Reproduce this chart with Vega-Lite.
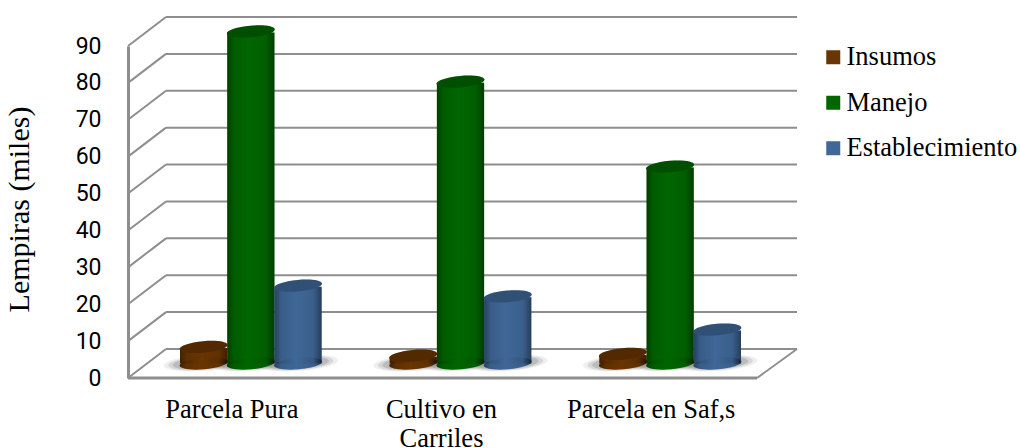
{
  "$schema": "https://vega.github.io/schema/vega-lite/v6.json",
  "description": "Costos por sistema de parcela, en miles de lempiras, dibujados como cilindros sobre un piso en perspectiva.",
  "width": 629,
  "height": 332,
  "autosize": "none",
  "padding": {"left": 128, "top": 46, "right": 263, "bottom": 70},
  "background": "white",
  "config": {
    "view": {"stroke": null},
    "axisY": {
      "labelOverlap": false,
      "labelFont": "Roboto",
      "labelFontSize": 23,
      "labelColor": "#000",
      "labelPadding": 27,
      "tickSize": 0,
      "grid": false,
      "tickCount": 10,
      "domainColor": "#8e8e8e",
      "domainWidth": 3,
      "titleFont": "Liberation Serif",
      "titleFontSize": 30,
      "titleFontWeight": "normal",
      "titleColor": "#000",
      "titlePadding": 41
    }
  },
  "datasets": {
    "costos": [
      {"sistema": "Parcela Pura", "rubro": "Insumos", "valor": 4.5},
      {"sistema": "Parcela Pura", "rubro": "Manejo", "valor": 90},
      {"sistema": "Parcela Pura", "rubro": "Establecimiento", "valor": 21.1},
      {"sistema": "Cultivo en Carriles", "rubro": "Insumos", "valor": 2.1},
      {"sistema": "Cultivo en Carriles", "rubro": "Manejo", "valor": 76.4},
      {"sistema": "Cultivo en Carriles", "rubro": "Establecimiento", "valor": 18.2},
      {"sistema": "Parcela en Saf,s", "rubro": "Insumos", "valor": 2.6},
      {"sistema": "Parcela en Saf,s", "rubro": "Manejo", "valor": 53.4},
      {"sistema": "Parcela en Saf,s", "rubro": "Establecimiento", "valor": 9.2}
    ],
    "marcas": [
      {"marca": 0}, {"marca": 10}, {"marca": 20}, {"marca": 30}, {"marca": 40},
      {"marca": 50}, {"marca": 60}, {"marca": 70}, {"marca": 80}, {"marca": 90}
    ]
  },
  "resolve": {"scale": {"x": "independent"}},
  "layer": [
    {
      "data": {"name": "marcas"},
      "mark": {"type": "rule", "color": "#8e8e8e", "strokeWidth": 2, "y2Offset": -29},
      "encoding": {
        "x": {"datum": 0, "type": "quantitative", "scale": {"domain": [0, 100]}, "axis": null},
        "x2": {"datum": 6.04},
        "y": {
          "field": "marca",
          "type": "quantitative",
          "scale": {"domain": [0, 90], "nice": false},
          "axis": {"title": "Lempiras (miles)", "titleY": 163, "values": [0, 10, 20, 30, 40, 50, 60, 70, 80, 90]}
        },
        "y2": {"field": "marca"}
      }
    },
    {
      "data": {"name": "marcas"},
      "mark": {"type": "rule", "color": "#8e8e8e", "strokeWidth": 2, "yOffset": -29, "y2Offset": -29},
      "encoding": {
        "x": {"datum": 6.04, "type": "quantitative", "scale": {"domain": [0, 100]}, "axis": null},
        "x2": {"datum": 106.36},
        "y": {"field": "marca", "type": "quantitative", "scale": {"domain": [0, 90], "nice": false}},
        "y2": {"field": "marca"}
      }
    },
    {
      "data": {"name": "marcas"},
      "transform": [{"filter": "datum.marca === 0"}],
      "mark": {"type": "rule", "color": "#8e8e8e", "strokeWidth": 3},
      "encoding": {
        "x": {"datum": 0, "type": "quantitative", "scale": {"domain": [0, 100]}, "axis": null},
        "x2": {"datum": 100},
        "y": {"field": "marca", "type": "quantitative", "scale": {"domain": [0, 90], "nice": false}}
      }
    },
    {
      "data": {"name": "marcas"},
      "transform": [{"filter": "datum.marca === 0"}],
      "mark": {"type": "rule", "color": "#8e8e8e", "strokeWidth": 2, "y2Offset": -29},
      "encoding": {
        "x": {"datum": 100, "type": "quantitative", "scale": {"domain": [0, 100]}, "axis": null},
        "x2": {"datum": 106.36},
        "y": {"field": "marca", "type": "quantitative", "scale": {"domain": [0, 90], "nice": false}},
        "y2": {"field": "marca"}
      }
    },
    {
      "data": {"name": "costos"},
      "encoding": {
        "x": {
          "field": "sistema",
          "type": "nominal",
          "sort": null,
          "scale": {"range": [18, 647], "paddingInner": 0, "paddingOuter": 0},
          "axis": {
            "title": null,
            "labelAngle": 0,
            "labelFont": "Liberation Serif",
            "labelFontSize": 26.5,
            "labelColor": "#000",
            "labelPadding": 18,
            "labelOffset": -19,
            "labelLineHeight": 29.5,
            "labelLimit": 0,
            "labelExpr": "datum.label === 'Cultivo en Carriles' ? ['Cultivo en', 'Carriles'] : datum.label",
            "domain": false,
            "ticks": false,
            "grid": false
          }
        },
        "xOffset": {
          "field": "rubro",
          "type": "nominal",
          "sort": null,
          "scale": {"domain": ["Insumos", "Manejo", "Establecimiento"], "paddingInner": 0, "paddingOuter": 0.72}
        },
        "color": {
          "field": "rubro",
          "type": "nominal",
          "sort": null,
          "scale": {"domain": ["Insumos", "Manejo", "Establecimiento"], "range": ["#693500", "#006600", "#3f6797"]},
          "legend": {
            "title": null,
            "orient": "none",
            "legendX": 692,
            "legendY": -2,
            "symbolType": "square",
            "symbolSize": 196,
            "symbolStrokeWidth": 0,
            "labelFont": "Liberation Serif",
            "labelFontSize": 26.5,
            "labelColor": "#000",
            "labelOffset": 0,
            "labelLimit": 0,
            "rowPadding": 18.5,
            "symbolOpacity": 1
          }
        }
      },
      "layer": [
        {
          "mark": {"type": "point", "filled": true, "opacity": 0.12, "size": 6400, "yOffset": -15,
            "shape": "M-1,0.07 A1,0.2 -4 1 1 1,-0.07 A1,0.2 -4 1 1 -1,0.07 Z"},
          "encoding": {"color": {"value": "#7a7a7a"}, "y": {"datum": 0, "type": "quantitative", "scale": {"domain": [0, 90], "nice": false}}}
        },
        {
          "mark": {"type": "point", "filled": true, "opacity": 0.2, "size": 5000, "yOffset": -15,
            "shape": "M-1,0.07 A1,0.2 -4 1 1 1,-0.07 A1,0.2 -4 1 1 -1,0.07 Z"},
          "encoding": {"color": {"value": "#7a7a7a"}, "y": {"datum": 0, "type": "quantitative", "scale": {"domain": [0, 90], "nice": false}}}
        },
        {
          "mark": {"type": "point", "filled": true, "opacity": 0.3, "size": 3800, "yOffset": -15,
            "shape": "M-1,0.07 A1,0.2 -4 1 1 1,-0.07 A1,0.2 -4 1 1 -1,0.07 Z"},
          "encoding": {"color": {"value": "#7a7a7a"}, "y": {"datum": 0, "type": "quantitative", "scale": {"domain": [0, 90], "nice": false}}}
        },
        {
          "mark": {"type": "point", "filled": true, "opacity": 1, "size": 2304, "yOffset": -14.5,
            "shape": "M-1,0.087 A1,0.24 -5 1 1 1,-0.087 A1,0.24 -5 1 1 -1,0.087 Z"},
          "encoding": {
            "y": {"datum": 0, "type": "quantitative", "scale": {"domain": [0, 90], "nice": false}}
          }
        },
        {
          "mark": {"type": "bar", "width": {"band": 1}, "yOffset": -13.5, "y2Offset": -14.5},
          "encoding": {
            "y": {"field": "valor", "type": "quantitative", "stack": null, "scale": {"domain": [0, 90], "nice": false}},
            "y2": {"datum": 0}
          }
        },
        {
          "mark": {"type": "point", "filled": true, "opacity": 1, "size": 2304, "yOffset": -14.5,
            "shape": "M-1,0.087 A1,0.24 -5 1 1 1,-0.087 A1,0.24 -5 1 1 -1,0.087 Z",
            "fill": {"gradient": "linear", "x1": 0, "y1": 0, "x2": 1, "y2": 0, "stops": [
              {"offset": 0, "color": "rgba(0,0,0,0.38)"},
              {"offset": 0.14, "color": "rgba(0,0,0,0.1)"},
              {"offset": 0.45, "color": "rgba(0,0,0,0)"},
              {"offset": 0.82, "color": "rgba(0,0,0,0.08)"},
              {"offset": 1, "color": "rgba(0,0,0,0.4)"}
            ]}},
          "encoding": {"color": {"value": null}, "y": {"datum": 0, "type": "quantitative", "scale": {"domain": [0, 90], "nice": false}}}
        },
        {
          "mark": {"type": "bar", "width": {"band": 1}, "yOffset": -13.5, "y2Offset": -14.5,
            "fill": {"gradient": "linear", "x1": 0, "y1": 0, "x2": 1, "y2": 0, "stops": [
              {"offset": 0, "color": "rgba(0,0,0,0.38)"},
              {"offset": 0.14, "color": "rgba(0,0,0,0.1)"},
              {"offset": 0.45, "color": "rgba(0,0,0,0)"},
              {"offset": 0.82, "color": "rgba(0,0,0,0.08)"},
              {"offset": 1, "color": "rgba(0,0,0,0.4)"}
            ]}},
          "encoding": {"color": {"value": null}, "y": {"field": "valor", "type": "quantitative", "stack": null, "scale": {"domain": [0, 90], "nice": false}}, "y2": {"datum": 0}}
        },
        {
          "mark": {"type": "point", "filled": true, "opacity": 1, "size": 2304, "yOffset": -14.5,
            "shape": "M-1,0.087 A1,0.24 -5 1 1 1,-0.087 A1,0.24 -5 1 1 -1,0.087 Z"},
          "encoding": {
            "y": {"field": "valor", "type": "quantitative", "stack": null, "scale": {"domain": [0, 90], "nice": false}}
          }
        },
        {
          "mark": {"type": "point", "filled": true, "opacity": 0.22, "size": 2304, "yOffset": -14.5,
            "shape": "M-1,0.087 A1,0.24 -5 1 1 1,-0.087 A1,0.24 -5 1 1 -1,0.087 Z"},
          "encoding": {"color": {"value": "#000"}, "y": {"field": "valor", "type": "quantitative", "stack": null, "scale": {"domain": [0, 90], "nice": false}}}
        }
      ]
    }
  ]
}
